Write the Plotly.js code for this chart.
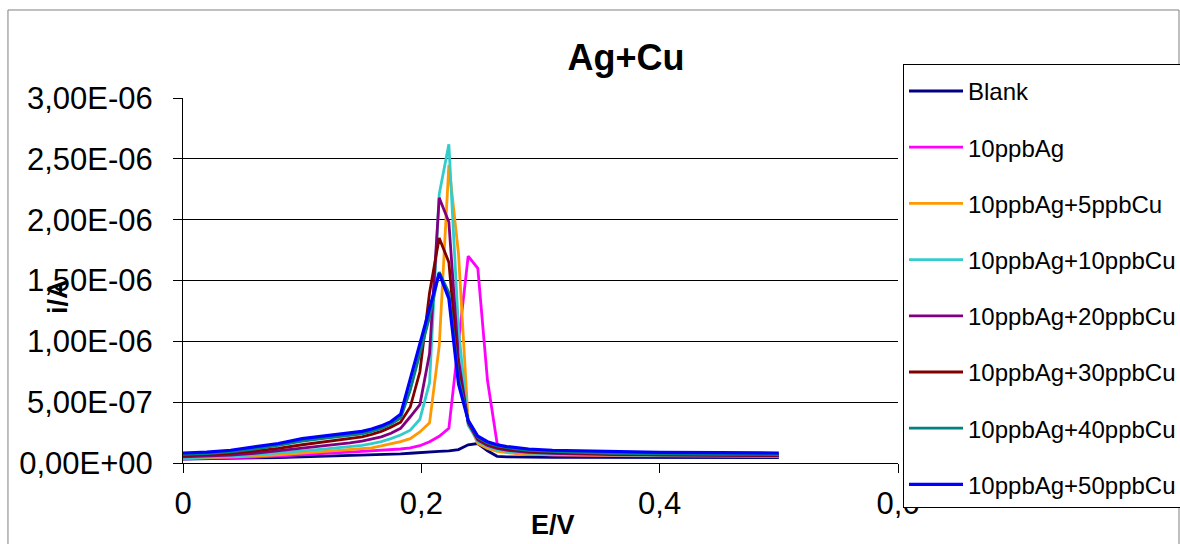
<!DOCTYPE html>
<html>
<head>
<meta charset="utf-8">
<script src="https://cdn.plot.ly/plotly-3.0.1.min.js"></script>
<style>
  html, body { margin: 0; padding: 0; background: #fff; }
  #chart { width: 1180px; height: 544px; }
</style>
</head>
<body>
<div id="chart"></div>
<script>
// Potential (V)
const E = [0, 0.02, 0.04, 0.06, 0.08, 0.1, 0.12, 0.14, 0.1502, 0.1583, 0.1664, 0.1745, 0.1826, 0.1907, 0.1988, 0.2069, 0.215, 0.2231, 0.2312, 0.2393, 0.2474, 0.2555, 0.2636, 0.2717, 0.2798, 0.29, 0.31, 0.33, 0.36, 0.4, 0.45, 0.5];

// Currents in units of 1e-7 A
const UNIT = 1e-7;
const blank     = [0.33, 0.35, 0.38, 0.4, 0.45, 0.5, 0.55, 0.6, 0.63, 0.66, 0.7, 0.72, 0.75, 0.8, 0.83, 0.88, 0.95, 1.0, 1.1, 1.5, 1.6, 1.0, 0.55, 0.5, 0.48, 0.47, 0.46, 0.46, 0.45, 0.45, 0.45, 0.45];
const ag10      = [0.35, 0.38, 0.42, 0.48, 0.56, 0.7, 0.8, 0.9, 0.95, 1.0, 1.05, 1.1, 1.15, 1.25, 1.42, 1.75, 2.2, 2.85, 10.0, 17.0, 16.0, 6.8, 1.6, 0.95, 0.8, 0.72, 0.66, 0.62, 0.6, 0.58, 0.57, 0.55];
const ag10cu5   = [0.38, 0.42, 0.48, 0.56, 0.66, 0.8, 0.95, 1.07, 1.15, 1.25, 1.4, 1.55, 1.75, 2.0, 2.55, 3.3, 9.6, 24.5, 17.2, 3.4, 1.6, 1.2, 0.95, 0.85, 0.78, 0.73, 0.68, 0.65, 0.62, 0.6, 0.58, 0.56];
const ag10cu10  = [0.42, 0.46, 0.55, 0.66, 0.8, 1.0, 1.17, 1.35, 1.45, 1.6, 1.75, 2.0, 2.3, 2.7, 3.6, 6.6, 22.1, 26.2, 11.0, 3.1, 1.8, 1.35, 1.1, 0.95, 0.88, 0.82, 0.75, 0.7, 0.66, 0.63, 0.6, 0.58];
const ag10cu20  = [0.5, 0.55, 0.65, 0.8, 1.0, 1.25, 1.45, 1.65, 1.8, 1.95, 2.15, 2.45, 2.85, 3.8, 4.8, 9.0, 21.8, 19.8, 8.5, 3.3, 1.9, 1.45, 1.2, 1.05, 0.95, 0.88, 0.8, 0.75, 0.7, 0.66, 0.63, 0.6];
const ag10cu30  = [0.6, 0.68, 0.8, 0.98, 1.2, 1.5, 1.75, 2.0, 2.15, 2.35, 2.6, 2.95, 3.35, 4.6, 7.5, 14.0, 18.5, 16.5, 7.5, 3.4, 2.0, 1.55, 1.3, 1.15, 1.05, 0.95, 0.85, 0.8, 0.72, 0.68, 0.65, 0.62];
const ag10cu40  = [0.72, 0.78, 0.92, 1.15, 1.45, 1.8, 2.05, 2.25, 2.4, 2.6, 2.85, 3.2, 3.7, 6.0, 9.0, 12.0, 15.7, 14.0, 7.0, 3.5, 2.1, 1.65, 1.4, 1.25, 1.15, 1.05, 0.95, 0.88, 0.8, 0.75, 0.72, 0.7];
const ag10cu50  = [0.82, 0.9, 1.05, 1.3, 1.6, 2.0, 2.25, 2.45, 2.6, 2.8, 3.05, 3.4, 4.0, 6.9, 9.8, 12.6, 15.6, 13.5, 6.5, 3.5, 2.2, 1.75, 1.5, 1.35, 1.25, 1.15, 1.05, 1.0, 0.93, 0.88, 0.85, 0.82];

const seriesNames = ['Blank', '10ppbAg', '10ppbAg+5ppbCu', '10ppbAg+10ppbCu', '10ppbAg+20ppbCu', '10ppbAg+30ppbCu', '10ppbAg+40ppbCu', '10ppbAg+50ppbCu'];
const seriesData = [blank, ag10, ag10cu5, ag10cu10, ag10cu20, ag10cu30, ag10cu40, ag10cu50];
const seriesColors = ['#000080', '#FF00FF', '#FF9900', '#33CCCC', '#800080', '#800000', '#008080', '#0000FF'];

const yTickVals = [0, 5e-7, 1e-6, 1.5e-6, 2e-6, 2.5e-6, 3e-6];
const yTickText = ['0,00E+00', '5,00E-07', '1,00E-06', '1,50E-06', '2,00E-06', '2,50E-06', '3,00E-06'];
const xTickVals = [0, 0.2, 0.4, 0.6];
const xTickText = ['0', '0,2', '0,4', '0,6'];

const FONT = 'Liberation Sans, Arial, sans-serif';

const traces = seriesData.map((vals, i) => ({
  type: 'scatter',
  mode: 'lines',
  x: E,
  y: vals.map(v => v * UNIT),
  name: seriesNames[i],
  legendgroup: 'g' + i,
  line: { color: seriesColors[i], width: i === 7 ? 3.2 : 2.8 }
}));

const layout = {
  width: 1180,
  height: 544,
  paper_bgcolor: '#ffffff',
  plot_bgcolor: '#ffffff',
  margin: { l: 183, r: 282, t: 98, b: 81, autoexpand: false },
  font: { family: FONT, color: '#000' },
  showlegend: true,
  title: {
    text: '<b>Ag+Cu</b>',
    font: { family: FONT, size: 36, color: '#000' },
    x: 0.5305, xanchor: 'center',
    y: 0.895, yanchor: 'middle'
  },
  xaxis: {
    range: [0, 0.6],
    tickmode: 'array',
    tickvals: xTickVals,
    ticktext: xTickText,
    showgrid: false,
    zeroline: false,
    showline: true,
    linecolor: '#000',
    linewidth: 1,
    ticks: 'outside',
    ticklen: 9,
    tickcolor: '#000',
    tickfont: { family: FONT, size: 31, color: '#000' },
    ticklabelstandoff: 4
  },
  yaxis: {
    range: [0, 3e-6],
    tickmode: 'array',
    tickvals: yTickVals,
    ticktext: yTickText,
    showgrid: true,
    gridcolor: '#000',
    gridwidth: 1,
    zeroline: false,
    showline: true,
    linecolor: '#000',
    linewidth: 1,
    ticks: 'outside',
    ticklen: 9,
    tickcolor: '#000',
    tickfont: { family: FONT, size: 31, color: '#000' },
    ticklabelstandoff: 14
  },
  legend: {
    x: 1.007, xanchor: 'left',
    y: 1.0932, yanchor: 'top',
    bgcolor: '#ffffff',
    bordercolor: '#000',
    borderwidth: 1,
    font: { family: FONT, size: 24, color: '#000' },
    title: { text: ' ', font: { family: FONT, size: 3, color: '#000' } },
    tracegroupgap: 22,
    itemwidth: 54,
    maxheight: 470
  },
  annotations: [
    {
      text: '<b>i/A</b>', xref: 'paper', yref: 'paper',
      x: -0.1748, y: 0.4548, xanchor: 'center', yanchor: 'middle',
      textangle: -90, showarrow: false,
      font: { family: FONT, size: 27, color: '#000' }
    },
    {
      text: '<b>E/V</b>', xref: 'paper', yref: 'paper',
      x: 0.5175, y: -0.1699, xanchor: 'center', yanchor: 'middle',
      showarrow: false,
      font: { family: FONT, size: 27, color: '#000' }
    }
  ],
  shapes: [
    {
      type: 'rect', xref: 'paper', yref: 'paper',
      x0: -0.2448, x1: 1.393, y0: -0.26, y1: 1.2411,
      line: { color: '#808080', width: 1 },
      fillcolor: 'rgba(0,0,0,0)',
      layer: 'below'
    }
  ]
};

Plotly.newPlot('chart', traces, layout, { displayModeBar: false, staticPlot: true });
</script>
</body>
</html>
